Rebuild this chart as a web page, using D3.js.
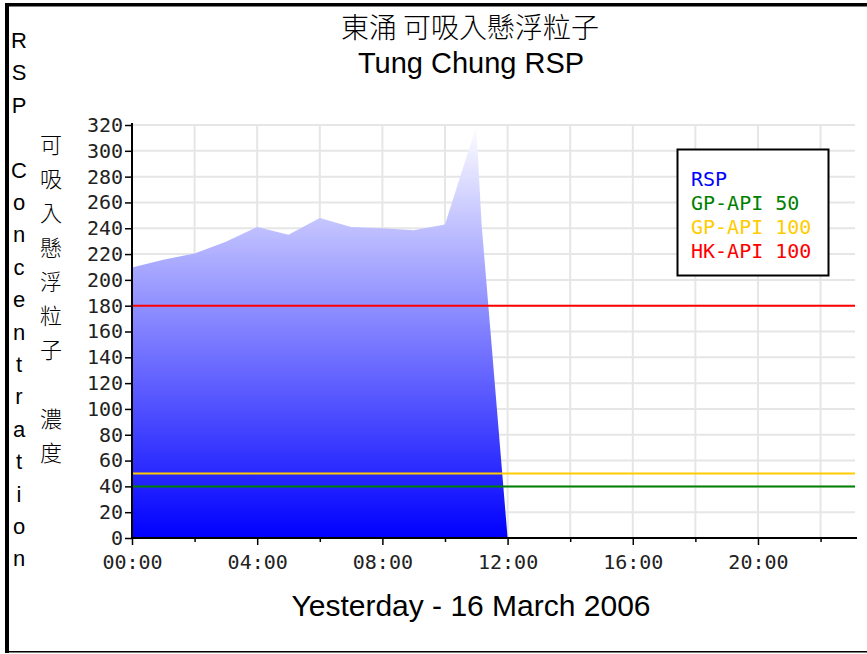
<!DOCTYPE html>
<html>
<head>
<meta charset="utf-8">
<script src="https://cdn.jsdelivr.net/npm/d3@7/dist/d3.min.js"></script>
<style>
  body { margin: 0; background: #fff; }
  svg { display: block; }
</style>
</head>
<body>
<div id="chart"></div>
<script>
// Tung Chung RSP, yesterday (hours since midnight, ug/m3)
const hours = [0, 1, 2, 3, 4, 5, 6, 7, 8, 9, 10, 11, 11.17, 12];
const rsp = [209.5, 215.5, 220.5, 229.5, 241, 235, 248, 241, 240, 238.5, 243, 319, 243, 0];

const refNames = ['GP-API 50', 'GP-API 100', 'HK-API 100'];
const refValues = [40, 50, 180];
const refColors = ['#008000', '#ffcc00', '#ff0000'];

const yTicks = d3.range(0, 321, 20);
const xTicks = [0, 4, 8, 12, 16, 20];
const xGrid = d3.range(0, 23, 2);

const titleZh = '東涌 可吸入懸浮粒子';
const titleEn = 'Tung Chung RSP';
const xTitle = 'Yesterday - 16 March 2006';
const yTitleEn = 'RSP Concentration';
const yTitleZh = '可吸入懸浮粒子 濃度';

const svgWidth = 867;
const svgHeight = 654;
const plot = { left: 132, right: 855, top: 125, bottom: 538 };
const monoFont = '"DejaVu Sans Mono", monospace';

const svg = d3.select('#chart')
    .append('svg')
    .attr('width', svgWidth)
    .attr('height', svgHeight);

const x = d3.scaleLinear().domain([0, 23.1]).range([plot.left, plot.right]);
const y = d3.scaleLinear().domain([0, 320]).range([plot.bottom, plot.top]);

// frame
svg.append('rect').attr('x', 5).attr('y', 3).attr('width', 4).attr('height', 650).attr('fill', '#000');
svg.append('rect').attr('x', 5).attr('y', 3).attr('width', svgWidth - 5).attr('height', 3.5).attr('fill', '#000');
svg.append('rect').attr('x', 5).attr('y', 651).attr('width', svgWidth - 5).attr('height', 1.5).attr('fill', '#000');

// titles
svg.append('text').attr('x', 470).attr('y', 38).attr('text-anchor', 'middle')
    .style('font-family', '"Noto Sans CJK TC", sans-serif').style('font-size', '28px').style('font-weight', 300)
    .text(titleZh);
svg.append('text').attr('x', 471).attr('y', 73).attr('text-anchor', 'middle')
    .style('font-family', '"Liberation Sans", Arial, sans-serif').style('font-size', '29px')
    .text(titleEn);
svg.append('text').attr('x', 471).attr('y', 616).attr('text-anchor', 'middle')
    .style('font-family', '"Liberation Sans", Arial, sans-serif').style('font-size', '30px')
    .text(xTitle);

// vertical axis titles, one character per line
svg.append('g').selectAll('text')
    .data(yTitleEn.split(''))
    .enter().append('text')
    .attr('x', 19)
    .attr('y', (d, i) => 48 + i * 32.4)
    .attr('text-anchor', 'middle')
    .style('font-family', '"Liberation Sans", Arial, sans-serif')
    .style('font-size', '22px')
    .text(d => d);
svg.append('g').selectAll('text')
    .data(yTitleZh.split(''))
    .enter().append('text')
    .attr('x', 51)
    .attr('y', (d, i) => 153 + i * 34.2)
    .attr('text-anchor', 'middle')
    .style('font-family', '"Noto Sans CJK TC", sans-serif')
    .style('font-size', '22px')
    .style('font-weight', 300)
    .text(d => d);

// grid
const grid = svg.append('g').attr('stroke', '#e6e6e6').attr('stroke-width', 2);
grid.selectAll('.gx').data(xGrid.slice(1)).enter().append('line')
    .attr('x1', d => x(d)).attr('x2', d => x(d))
    .attr('y1', plot.top).attr('y2', plot.bottom);
grid.selectAll('.gy').data(yTicks.slice(1)).enter().append('line')
    .attr('x1', plot.left).attr('x2', plot.right)
    .attr('y1', d => y(d)).attr('y2', d => y(d));

// area with white-to-blue gradient
const grad = svg.append('defs').append('linearGradient')
    .attr('id', 'rspFill')
    .attr('gradientUnits', 'userSpaceOnUse')
    .attr('x1', 0).attr('x2', 0)
    .attr('y1', y(320)).attr('y2', y(0));
grad.append('stop').attr('offset', 0).attr('stop-color', '#ffffff');
grad.append('stop').attr('offset', 1).attr('stop-color', '#0000ff');

const area = d3.area()
    .x((d, i) => x(hours[i]))
    .y0(y(0))
    .y1(d => y(d));
svg.append('path')
    .datum(rsp)
    .attr('d', area)
    .attr('fill', 'url(#rspFill)');

// reference lines
svg.append('g').selectAll('line')
    .data(refValues)
    .enter().append('line')
    .attr('x1', plot.left).attr('x2', plot.right)
    .attr('y1', d => y(d)).attr('y2', d => y(d))
    .attr('stroke', (d, i) => refColors[i])
    .attr('stroke-width', 2);

// axes
const fmtHour = h => d3.format('02d')(h) + ':00';
const xAxis = svg.append('g')
    .attr('transform', `translate(0,${plot.bottom})`)
    .call(d3.axisBottom(x).tickValues(xTicks).tickFormat(fmtHour).tickSize(7).tickPadding(10));
svg.append('g')
    .attr('transform', `translate(0,${plot.bottom})`)
    .call(d3.axisBottom(x).tickValues(xGrid.filter(d => d % 4 !== 0)).tickFormat('').tickSize(4))
    .select('.domain').remove();
const yAxis = svg.append('g')
    .attr('transform', `translate(${plot.left},0)`)
    .call(d3.axisLeft(y).tickValues(yTicks).tickSize(7).tickPadding(2));

svg.selectAll('.domain').attr('stroke', '#000').attr('stroke-width', 2);
svg.selectAll('.tick line').attr('stroke', '#000').attr('stroke-width', 1.5);
xAxis.select('.domain').attr('d', `M${plot.left},0H${plot.right + 2}`);
yAxis.select('.domain').attr('d', `M0,${plot.bottom}V${plot.top - 2}`);
svg.selectAll('.tick text')
    .style('font-family', monoFont)
    .style('font-size', '20px')
    .attr('fill', '#222');

// legend
const legendNames = ['RSP'].concat(refNames);
const legendColors = ['#0000ff'].concat(refColors);
const legend = svg.append('g');
legend.append('rect')
    .attr('x', 677.5).attr('y', 149.5).attr('width', 151).attr('height', 126)
    .attr('fill', '#fff').attr('stroke', '#000').attr('stroke-width', 2);
legend.selectAll('text')
    .data(legendNames)
    .enter().append('text')
    .attr('x', 691)
    .attr('y', (d, i) => 186 + i * 24)
    .attr('fill', (d, i) => legendColors[i])
    .style('font-family', monoFont)
    .style('font-size', '20px')
    .text(d => d);
</script>
</body>
</html>
